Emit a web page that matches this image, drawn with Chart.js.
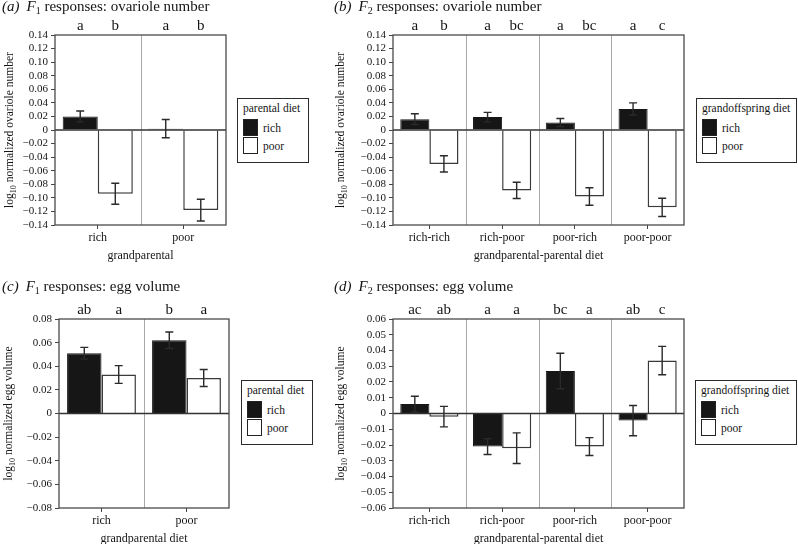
<!DOCTYPE html>
<html>
<head>
<meta charset="utf-8">
<script src="https://cdn.jsdelivr.net/npm/chart.js@4.4.0/dist/chart.umd.min.js"></script>
<style>
  body { margin: 0; background: #fff; }
  #wrap { position: relative; width: 798px; height: 544px; overflow: hidden;
    font-family: "Liberation Serif", "Times New Roman", serif; color: #151515; }
  canvas { position: absolute; }
  .title { position: absolute; font-size: 15px; line-height: 15px; white-space: nowrap; }
  .title .tag { font-style: italic; margin-right: 7px; }
  .title sub { font-size: 10px; line-height: 0; vertical-align: -3px; }
  .legend { position: absolute; border: 1.5px solid #2a2a2a; background: #fff; box-sizing: border-box;
    font-size: 11.5px; line-height: 12px; }
  .legend .lt { position: absolute; left: 5px; top: 3px; white-space: nowrap; }
  .legend .sw { position: absolute; left: 5px; width: 15px; height: 17px; box-sizing: border-box; border: 1.5px solid #222; }
  .legend .ll { position: absolute; left: 25px; white-space: nowrap; }
</style>
</head>
<body>
<div id="wrap"></div>
<script>
// ---- data ----
var seriesNames = ["rich", "poor"];

// (a) F1 ovariole number
var catsA = ["rich", "poor"];
var richA = [0.020, 0.002];
var poorA = [-0.094, -0.118];
var richErrA = [0.008, 0.0135];
var poorErrA = [0.0155, 0.016];
var richLetA = ["a", "a"];
var poorLetA = ["b", "b"];
var ticksA = [-0.14, 0.14, 0.02];

// (b) F2 ovariole number
var catsB = ["rich-rich", "rich-poor", "poor-rich", "poor-poor"];
var richB = [0.016, 0.019, 0.011, 0.031];
var poorB = [-0.050, -0.089, -0.098, -0.114];
var richErrB = [0.008, 0.007, 0.006, 0.009];
var poorErrB = [0.012, 0.012, 0.013, 0.0135];
var richLetB = ["a", "a", "a", "a"];
var poorLetB = ["b", "bc", "bc", "c"];
var ticksB = [-0.14, 0.14, 0.02];

// (c) F1 egg volume
var catsC = ["rich", "poor"];
var richC = [0.051, 0.062];
var poorC = [0.033, 0.030];
var richErrC = [0.005, 0.007];
var poorErrC = [0.0075, 0.0072];
var richLetC = ["ab", "b"];
var poorLetC = ["a", "a"];
var ticksC = [-0.08, 0.08, 0.02];

// (d) F2 egg volume
var catsD = ["rich-rich", "rich-poor", "poor-rich", "poor-poor"];
var richD = [0.006, -0.021, 0.027, -0.0045];
var poorD = [-0.002, -0.022, -0.021, 0.0336];
var richErrD = [0.005, 0.005, 0.0113, 0.0096];
var poorErrD = [0.0065, 0.0097, 0.0057, 0.009];
var richLetD = ["ac", "a", "bc", "ab"];
var poorLetD = ["ab", "a", "a", "c"];
var ticksD = [-0.06, 0.06, 0.01];

var FONT = "'Liberation Serif', 'Times New Roman', serif";
Chart.defaults.font.family = FONT;
Chart.defaults.color = "#151515";

function fmtTick(v) {
  var r = Math.round(v * 100) / 100;
  if (r === 0) return "0";
  return (r < 0 ? "\u2212" : "") + Math.abs(r).toFixed(2);
}

// dividers, zero line, error bars, letters, box and axis titles
var panelDeco = {
  id: "panelDeco",
  beforeDatasetsDraw: function (chart) {
    var ctx = chart.ctx, a = chart.chartArea, x = chart.scales.x;
    ctx.save();
    ctx.strokeStyle = "#a8a8a8";
    ctx.lineWidth = 1;
    for (var i = 1; i < chart.data.labels.length; i++) {
      var px = Math.round((x.getPixelForValue(i - 1) + x.getPixelForValue(i)) / 2) + 0.5;
      ctx.beginPath();
      ctx.moveTo(px, a.top);
      ctx.lineTo(px, a.bottom);
      ctx.stroke();
    }
    ctx.restore();
  },
  afterDatasetsDraw: function (chart, args, opts) {
    var ctx = chart.ctx, a = chart.chartArea, y = chart.scales.y;
    ctx.save();
    // zero line
    var y0 = y.getPixelForValue(0);
    ctx.strokeStyle = "#333";
    ctx.lineWidth = 1.3;
    ctx.beginPath();
    ctx.moveTo(a.left, y0);
    ctx.lineTo(a.right, y0);
    ctx.stroke();
    // error bars + letters
    chart.data.datasets.forEach(function (ds, di) {
      var meta = chart.getDatasetMeta(di);
      meta.data.forEach(function (bar, j) {
        var v = ds.data[j], e = opts.errors[di][j];
        var yt = y.getPixelForValue(v + e), yb = y.getPixelForValue(v - e);
        ctx.strokeStyle = "#2a2a2a";
        ctx.lineWidth = 1.4;
        ctx.beginPath();
        ctx.moveTo(bar.x, yt); ctx.lineTo(bar.x, yb);
        ctx.moveTo(bar.x - 4, yt); ctx.lineTo(bar.x + 4, yt);
        ctx.moveTo(bar.x - 4, yb); ctx.lineTo(bar.x + 4, yb);
        ctx.stroke();
        ctx.fillStyle = "#151515";
        ctx.font = "15px " + FONT;
        ctx.textAlign = "center";
        ctx.textBaseline = "alphabetic";
        ctx.fillText(opts.letters[di][j], bar.x, a.top - 5.5);
      });
    });
    ctx.restore();
  },
  afterDraw: function (chart, args, opts) {
    var ctx = chart.ctx, a = chart.chartArea;
    ctx.save();
    ctx.strokeStyle = "#4a4a4a";
    ctx.lineWidth = 1.3;
    ctx.strokeRect(a.left, a.top, a.right - a.left, a.bottom - a.top);
    // x title
    ctx.fillStyle = "#151515";
    ctx.font = "12px " + FONT;
    ctx.textAlign = "center";
    ctx.textBaseline = "alphabetic";
    ctx.fillText(opts.xTitle, (a.left + a.right) / 2, a.bottom + 33.5);
    // y title with subscript
    var cy = (a.top + a.bottom) / 2;
    ctx.translate(opts.yTitleX, cy);
    ctx.rotate(-Math.PI / 2);
    ctx.textAlign = "left";
    var big = "11.5px " + FONT, small = "8px " + FONT;
    ctx.font = big;
    var w1 = ctx.measureText("log").width;
    var w3 = ctx.measureText(" " + opts.yTitle).width;
    ctx.font = small;
    var w2 = ctx.measureText("10").width;
    var x0 = -(w1 + w2 + w3) / 2;
    ctx.font = big;
    ctx.fillText("log", x0, 4);
    ctx.fillText(" " + opts.yTitle, x0 + w1 + w2, 4);
    ctx.font = small;
    ctx.fillText("10", x0 + w1, 7);
    ctx.restore();
  }
};

var wrap = document.getElementById("wrap");

function makePanel(p) {
  var box = p.box, area = p.area;
  var canvas = document.createElement("canvas");
  canvas.width = box[2];
  canvas.height = box[3];
  canvas.style.left = box[0] + "px";
  canvas.style.top = box[1] + "px";
  canvas.style.width = box[2] + "px";
  canvas.style.height = box[3] + "px";
  wrap.appendChild(canvas);

  var yW = area[0] - box[0];
  var xH = box[1] + box[3] - area[3];

  new Chart(canvas, {
    type: "bar",
    data: {
      labels: p.cats,
      datasets: [
        { label: seriesNames[0], data: p.rich, backgroundColor: "#161616", borderColor: "#161616", borderWidth: 1 },
        { label: seriesNames[1], data: p.poor, backgroundColor: "#ffffff", borderColor: "#3a3a3a", borderWidth: 1.5 }
      ]
    },
    options: {
      responsive: false,
      animation: false,
      layout: { padding: { left: 0, top: area[1] - box[1], right: box[0] + box[2] - area[2], bottom: 0 } },
      datasets: { bar: { categoryPercentage: p.group, barPercentage: 1 } },
      plugins: {
        legend: { display: false },
        tooltip: { enabled: false },
        panelDeco: {
          errors: [p.richErr, p.poorErr],
          letters: [p.richLet, p.poorLet],
          xTitle: p.xTitle,
          yTitle: p.yTitle,
          yTitleX: p.yTitleX - box[0]
        }
      },
      scales: {
        x: {
          grid: { display: true, drawOnChartArea: false, offset: false, tickLength: 4, tickColor: "#444" },
          border: { display: false },
          ticks: { font: { size: 12 }, padding: 2, color: "#151515" },
          afterFit: function (s) { s.height = xH; }
        },
        y: {
          min: p.ticks[0], max: p.ticks[1],
          ticks: { stepSize: p.ticks[2], callback: fmtTick, font: { size: 11 }, padding: 3, autoSkip: false, color: "#151515" },
          grid: { display: true, drawOnChartArea: false, tickLength: 4, tickColor: "#444" },
          border: { display: false },
          afterFit: function (s) { s.width = yW; }
        }
      }
    },
    plugins: [panelDeco]
  });
}

function makeTitle(left, top, tag, sub, text) {
  var d = document.createElement("div");
  d.className = "title";
  d.style.left = left + "px";
  d.style.top = top + "px";
  d.innerHTML = '<span class="tag">(' + tag + ')</span><i>F</i><sub>' + sub + '</sub> ' + text;
  wrap.appendChild(d);
}

function makeLegend(left, top, width, title) {
  var d = document.createElement("div");
  d.className = "legend";
  d.style.left = left + "px";
  d.style.top = top + "px";
  d.style.width = width + "px";
  d.style.height = "65px";
  var html = '<div class="lt">' + title + '</div>';
  var fills = ["#161616", "#ffffff"];
  seriesNames.forEach(function (name, i) {
    html += '<div class="sw" style="top:' + (20 + i * 18) + 'px;background:' + fills[i] + '"></div>';
    html += '<div class="ll" style="top:' + (22.5 + i * 18.5) + 'px">' + name + '</div>';
  });
  d.innerHTML = html;
  wrap.appendChild(d);
}

makePanel({ box: [0, 0, 236, 272], area: [55, 35, 226, 225], cats: catsA, rich: richA, poor: poorA,
  richErr: richErrA, poorErr: poorErrA, richLet: richLetA, poorLet: poorLetA, ticks: ticksA, group: 0.82,
  xTitle: "grandparental", yTitle: "normalized ovariole number", yTitleX: 9 });
makePanel({ box: [330, 0, 362, 272], area: [393, 35, 684, 225], cats: catsB, rich: richB, poor: poorB,
  richErr: richErrB, poorErr: poorErrB, richLet: richLetB, poorLet: poorLetB, ticks: ticksB, group: 0.8,
  xTitle: "grandparental-parental diet", yTitle: "normalized ovariole number", yTitleX: 340 });
makePanel({ box: [0, 272, 238, 272], area: [59, 319, 229, 508], cats: catsC, rich: richC, poor: poorC,
  richErr: richErrC, poorErr: poorErrC, richLet: richLetC, poorLet: poorLetC, ticks: ticksC, group: 0.81,
  xTitle: "grandparental diet", yTitle: "normalized egg volume", yTitleX: 8 });
makePanel({ box: [330, 272, 362, 272], area: [393, 319, 684, 508], cats: catsD, rich: richD, poor: poorD,
  richErr: richErrD, poorErr: poorErrD, richLet: richLetD, poorLet: poorLetD, ticks: ticksD, group: 0.8,
  xTitle: "grandparental-parental diet", yTitle: "normalized egg volume", yTitleX: 340 });

makeTitle(2, -1, "a", "1", "responses: ovariole number");
makeTitle(334, -1, "b", "2", "responses: ovariole number");
makeTitle(2, 279, "c", "1", "responses: egg volume");
makeTitle(334, 279, "d", "2", "responses: egg volume");

makeLegend(237, 98, 72, "parental diet");
makeLegend(696, 98, 101, "grandoffspring diet");
makeLegend(241, 380, 72, "parental diet");
makeLegend(695, 380, 102, "grandoffspring diet");
</script>
</body>
</html>
